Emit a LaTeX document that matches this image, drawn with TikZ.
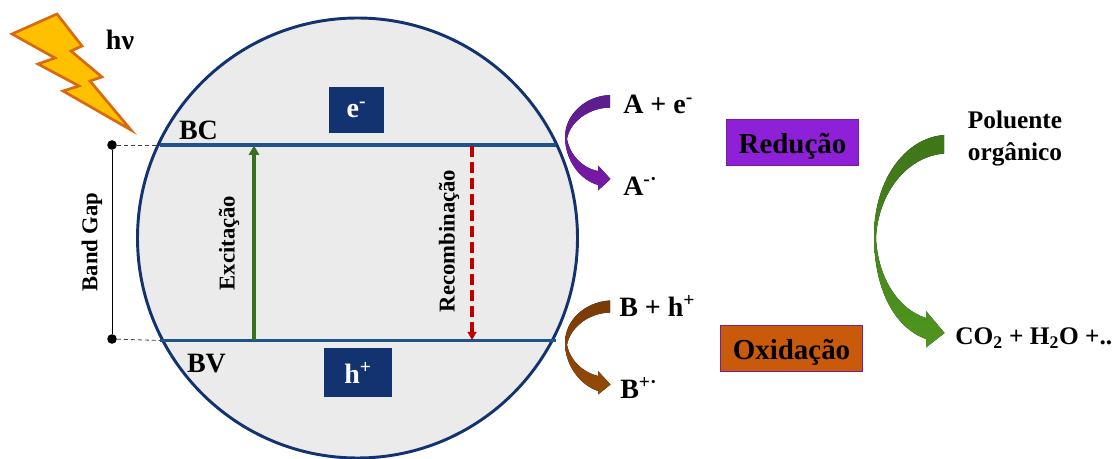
\documentclass[tikz,border=0pt]{standalone}
\usepackage{fontspec}
\setmainfont{Liberation Serif}
\usetikzlibrary{arrows.meta}
\definecolor{navy}{HTML}{12336F}
\definecolor{lvl}{HTML}{1F5488}
\definecolor{disc}{HTML}{EBEBEB}
\definecolor{exc}{HTML}{38701E}
\definecolor{rec}{HTML}{C00000}
\definecolor{redfill}{HTML}{8E20D8}
\definecolor{oxfill}{HTML}{C9590B}
\definecolor{boxedge}{HTML}{7A1F8F}
\definecolor{boltfill}{HTML}{FFC000}
\definecolor{boltedge}{HTML}{D9690F}
\definecolor{purpA}{HTML}{5B1E8C}
\definecolor{purpB}{HTML}{7A18A8}
\definecolor{brownA}{HTML}{7A3A06}
\definecolor{brownB}{HTML}{944A08}
\definecolor{greenA}{HTML}{3E7518}
\definecolor{greenB}{HTML}{4F961F}
\tikzset{
  lbl/.style={font=\bfseries\fontsize{21}{24}\selectfont,inner sep=0pt,text=black},
  lblsm/.style={font=\bfseries\fontsize{19}{24}\selectfont,inner sep=0pt,text=black,align=center},
  lblrot/.style={font=\bfseries\fontsize{17}{19}\selectfont,inner sep=0pt,text=black,rotate=90},
  carrier/.style={fill=navy,draw=none,inner sep=0pt,text=white,font=\bfseries\fontsize{21}{24}\selectfont},
  procbox/.style={draw=boxedge,line width=0.8pt,inner sep=0pt,text=black,font=\bfseries\fontsize{21.7}{24}\selectfont,text height=16pt,text depth=0.2pt},
  level/.style={draw=lvl,line width=2.4pt},
  dot/.style={circle,fill=black,inner sep=0pt,minimum size=7.2pt},
  guide/.style={draw=black!75,line width=0.6pt,dash pattern=on 3pt off 2.2pt}
}
\begin{document}
\begin{tikzpicture}[x=0.75pt,y=-0.75pt]
\useasboundingbox (0,0) rectangle (1113,459);
% semiconductor particle
\node[circle,draw=navy,fill=disc,line width=2.2pt,minimum size=330pt,inner sep=0pt] (disc) at (357.5,238) {};
% energy levels
\coordinate (bcL) at (160,145); \coordinate (bcR) at (556,145);
\coordinate (bvL) at (160,340.5); \coordinate (bvR) at (556,340.5);
\draw[level] (bcL) -- (bcR);
\draw[level] (bvL) -- (bvR);
% lightning
\filldraw[fill=boltfill,draw=boltedge,line width=2pt,line join=miter]
 (12,34)--(57,14)--(82,46)--(71,51)--(102,77)--(90,81)--(131,130)--(63,91)--(79,86)--(38,64)--(55,58)--cycle;
\node[lbl] (hv) at (120,40) {hν};
% band gap
\node[dot] (top) at (112,145) {};
\node[dot] (bot) at (112,339) {};
\draw[black,line width=0.7pt] (top) -- (bot);
\draw[guide] (top) -- (bcL);
\draw[guide] (bot) -- (bvL);
\node[lblrot] (gap) at (92,242) {Band Gap};
% labels inside
\node[lbl] (bc) at (198.5,130) {BC};
\node[lbl] (bv) at (206.5,364) {BV};
\node[carrier,minimum width=41.2pt,minimum height=34.5pt] (e) at (356.5,110) {e\textsuperscript{-}};
\node[carrier,minimum width=51pt,minimum height=36.8pt] (h) at (358,372.5) {h\textsuperscript{+}};
% transitions
\coordinate (excB) at (254,340); \coordinate (excT) at (254,145.5);
\draw[exc,line width=2.4pt,-{Triangle[length=7pt,width=7.5pt]}] (excB) -- (excT);
\coordinate (recT) at (472,146); \coordinate (recB) at (472,340);
\draw[rec,line width=2.6pt,dash pattern=on 8.5pt off 3.5pt,-{Triangle[length=6pt,width=6.5pt]}] (recT) -- (recB);
\node[lblrot] (exct) at (229,243) {Excitação};
\node[lblrot] (recm) at (449,241) {Recombinação};
% curved arrows
\fill[top color=purpA,bottom color=purpB]
 (610,95) .. controls (585,96) and (565,115) .. (565,137)
 .. controls (565,160) and (580,180) .. (598,185)
 -- (598,190.5) -- (610.5,179) -- (598,165.5) -- (598,171)
 .. controls (582,168) and (570,155) .. (567,139)
 .. controls (570,122) and (588,108) .. (610,107.5) -- cycle;
\fill[top color=brownA,bottom color=brownB]
 (610,300.5) .. controls (585,302) and (565,320) .. (565,343)
 .. controls (565,365) and (580,385) .. (598,391)
 -- (598,394.5) -- (610.5,384.5) -- (598,371) -- (598,376)
 .. controls (582,372) and (570,360) .. (567,345)
 .. controls (570,328) and (588,313) .. (610,312.5) -- cycle;
\fill[top color=greenA,bottom color=greenB]
 (944,135) .. controls (905,138) and (874,180) .. (874,236)
 .. controls (874,290) and (895,328) .. (926,339)
 -- (926,347.5) -- (944.5,333) -- (926,311) -- (926,318)
 .. controls (900,310) and (878,280) .. (876,238)
 .. controls (878,195) and (905,157) .. (944,153.5) -- cycle;
% reactions
\node[lbl,anchor=west] (a1) at (623,104) {A + e\textsuperscript{-}};
\node[lbl,anchor=west] (a2) at (623,186) {A\textsuperscript{-·}};
\node[lbl,anchor=west] (b1) at (619,306) {B + h\textsuperscript{+}};
\node[lbl,anchor=west] (b2) at (620,388) {B\textsuperscript{+·}};
\node[procbox,fill=redfill,minimum width=99.5pt,minimum height=35pt] (red) at (792.5,142.5) {Redução};
\node[procbox,fill=oxfill,minimum width=107pt,minimum height=35pt] (ox) at (791.5,348.5) {Oxidação};
\node[lblsm] (pol) at (1015,138.5) {Poluente\\orgânico};
\node[lbl,anchor=west,font=\bfseries\fontsize{19}{22}\selectfont] (co) at (955,338.5) {CO\textsubscript{2} + H\textsubscript{2}O +..};
\end{tikzpicture}
\end{document}
